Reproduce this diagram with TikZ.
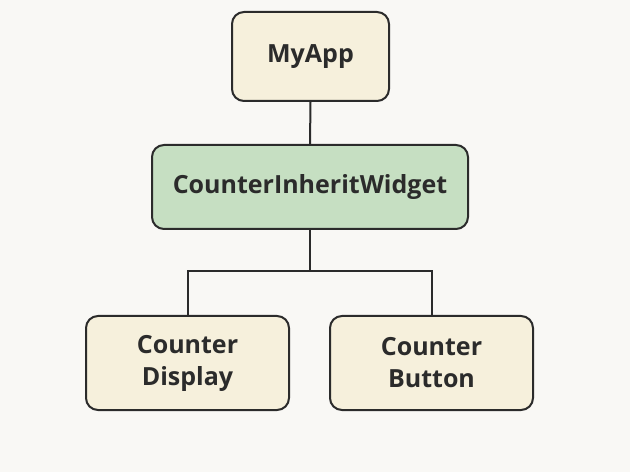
\documentclass[tikz,border=0pt]{standalone}
\usepackage{fontspec}
\setmainfont{Open Sans}
\definecolor{bgc}{HTML}{F9F8F5}
\definecolor{cream}{HTML}{F6F0DC}
\definecolor{greenc}{HTML}{C6DFC2}
\definecolor{linec}{HTML}{2B2B2B}
\begin{document}
\begin{tikzpicture}[x=1pt,y=1pt,
  box/.style={draw=linec,line width=2pt,rounded corners=12pt,fill=cream,align=center,
    font=\fontsize{25}{32}\selectfont\bfseries,text=linec,inner sep=0pt},
  conn/.style={draw=linec,line width=2pt}]
\fill[bgc] (0,0) rectangle (630,472);
\useasboundingbox (0,0) rectangle (630,472);
\node[box,minimum width=157pt,minimum height=89pt] (app) at (310.5,415.5) {MyApp};
\node[box,fill=greenc,minimum width=316pt,minimum height=84pt] (ciw) at (310,285) {CounterInheritWidget};
\node[box,minimum width=203pt,minimum height=94pt] (disp) at (187.5,109) {Counter\\Display};
\node[box,minimum width=203pt,minimum height=94pt] (btn) at (431.5,109) {Counter\\Button};
\coordinate (j) at (310,201);
\draw[conn] (app.south) -- (ciw.north);
\draw[conn] (ciw.south) -- (j);
\draw[conn] (j) -| (disp.north);
\draw[conn] (j) -| (btn.north);
\end{tikzpicture}
\end{document}
